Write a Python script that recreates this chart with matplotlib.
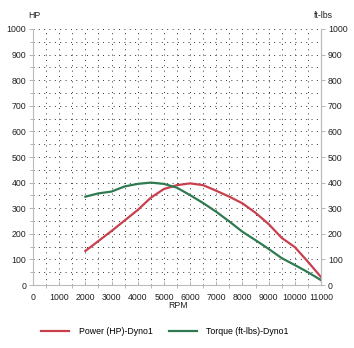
import matplotlib
matplotlib.use("Agg")
import matplotlib.pyplot as plt
import numpy as np

rpm = [2000, 2500, 3000, 3500, 4000, 4500, 5000, 5500, 6000, 6500, 7000, 7500,
       8000, 8500, 9000, 9500, 10000, 10500, 11000]
power_hp = [133, 172, 211, 252, 293, 341, 375, 390, 397, 390, 368, 345,
            319, 282, 238, 184, 148, 91, 31]
torque_ftlbs = [345, 358, 365, 385, 395, 400, 395, 380, 351, 320, 286, 248,
                208, 175, 141, 105, 78, 50, 19]

x_ticks = list(range(0, 11001, 1000))
y_ticks = list(range(0, 1001, 100))

red = "#c8404e"
green = "#2f7a50"
text_color = "#222222"
fs = 6.3

plt.rcParams["font.family"] = ["Liberation Sans", "DejaVu Sans"]
fig = plt.figure(figsize=(3.54, 3.48), dpi=100)
ax = fig.add_axes([0.0932, 0.181, 0.8136, 0.7357])

ax.plot(rpm, power_hp, color=red, lw=1.6, label="Power (HP)-Dyno1")
ax.plot(rpm, torque_ftlbs, color=green, lw=1.6, label="Torque (ft-lbs)-Dyno1")

ax.set_xlim(0, 11000)
ax.set_ylim(0, 1000)
ax.set_xticks(x_ticks)
ax.set_yticks(y_ticks)
ax.set_xticks(np.arange(500, 11000, 1000), minor=True)
ax.set_yticks(np.arange(50, 1000, 100), minor=True)
ax.tick_params(axis="y", labelsize=fs, colors=text_color, length=3, width=0.6,
               color="#aaaaaa", pad=2, direction="out")
ax.tick_params(axis="x", labelsize=fs, colors=text_color, length=3, width=0.6,
               color="#aaaaaa", pad=6, direction="in")
ax.tick_params(axis="both", which="minor", length=2, width=0.6, color="#aaaaaa")

ax.grid(True, which="both", color="#333333", lw=0.7, linestyle=(0, (1, 4.5)))
ax.set_axisbelow(True)

ax.spines["top"].set_visible(False)
for side in ["left", "right", "bottom"]:
    ax.spines[side].set_color("#bbbbbb")
    ax.spines[side].set_linewidth(0.8)

ax2 = ax.twinx()
ax2.set_ylim(0, 1000)
ax2.set_yticks(y_ticks)
ax2.tick_params(axis="y", labelsize=fs, colors=text_color, length=3, width=0.6,
                color="#aaaaaa", pad=2)
for side in ["top", "left", "bottom"]:
    ax2.spines[side].set_visible(False)
ax2.spines["right"].set_color("#bbbbbb")
ax2.spines["right"].set_linewidth(0.8)

fig.text(28 / 354, 1 - 15 / 348, "HP", fontsize=fs, color=text_color, ha="left", va="center")
fig.text(314 / 354, 1 - 15 / 348, "ft-lbs", fontsize=fs, color=text_color, ha="left", va="center")
fig.text(178 / 354, 1 - 306 / 348, "RPM", fontsize=fs, color=text_color, ha="center", va="center")

handles, labels = ax.get_legend_handles_labels()
fig.legend(handles, labels, loc="center", bbox_to_anchor=(165 / 354, 1 - 332 / 348),
           ncol=2, frameon=False, fontsize=fs, handlelength=3.2, columnspacing=1.8,
           handletextpad=1.1)

fig.savefig("out.png", dpi=100)
